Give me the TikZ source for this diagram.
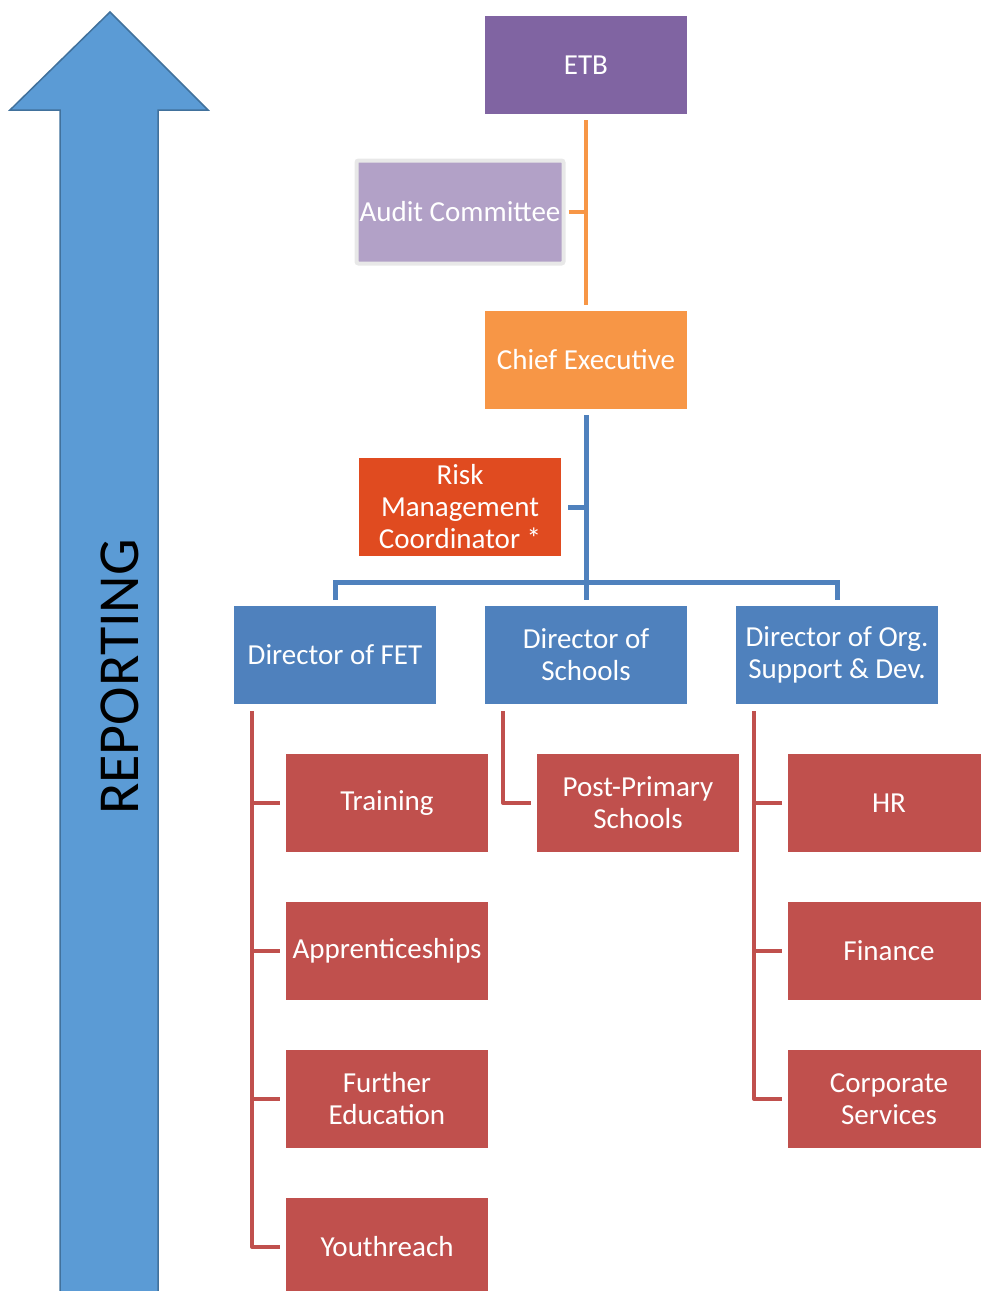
\documentclass[tikz,border=0pt]{standalone}
\usepackage{fontspec}
\setmainfont{Carlito}
\usepackage{xcolor}
\usetikzlibrary{positioning}

\definecolor{etbpurple}{HTML}{8064A2}
\definecolor{auditlilac}{HTML}{B2A1C7}
\definecolor{ceorange}{HTML}{F79646}
\definecolor{riskred}{HTML}{E04B20}
\definecolor{dirblue}{HTML}{4F81BD}
\definecolor{unitred}{HTML}{C0504D}
\definecolor{arrowblue}{HTML}{5B9BD5}
\definecolor{arrowedge}{HTML}{41719C}

\begin{document}
\begin{tikzpicture}[orgbox/.style={rectangle, minimum width=4.04cm, minimum height=1.96cm, inner sep=0pt, outer sep=0pt, align=center, text=white, font=\fontsize{16.5}{18.2}\selectfont},
                    node distance=1cm,
                    orangeline/.style={draw=ceorange, line width=0.08cm},
                    blueline/.style={draw=dirblue, line width=0.1cm},
                    redline/.style={draw=unitred, line width=0.08cm, line join=round},]
            \useasboundingbox (0,0) rectangle (19.62,-25.82);

            %Arrow
            \fill[arrowblue, draw=arrowedge, line width=0.03cm] (2.2,-0.24) -- (4.16,-2.2) -- (3.16,-2.2) -- (3.16,-26.2) -- (1.2,-26.2) -- (1.2,-2.2) -- (0.2,-2.2) -- cycle;
            \node[rotate=90, font=\fontsize{33}{36}\selectfont](reporting) at (2.4,-13.54){REPORTING};

            %Nodes
            \node[orgbox, fill=etbpurple](etb) at (11.72,-1.3){ETB};
            \node[orgbox, fill=auditlilac, draw=gray!18, line width=0.08cm, minimum width=4.14cm, minimum height=2.06cm, rounded corners=0.04cm](audit) at (9.2,-4.24){Audit Committee};
            \node[orgbox, fill=ceorange](chief)[below=3.94cm of etb]{Chief Executive};
            \node[orgbox, fill=riskred](risk) at (9.2,-10.14){Risk\\Management\\Coordinator *};
            \node[orgbox, fill=dirblue](dir_schools)[below=3.94cm of chief]{Director of\\Schools};
            \node[orgbox, fill=dirblue](dir_fet)[left=0.98cm of dir_schools]{Director of FET};
            \node[orgbox, fill=dirblue](dir_org)[right=0.98cm of dir_schools]{Director of Org.\\Support \& Dev.};

            \node[orgbox, fill=unitred](unit_training)[below=of dir_fet, xshift=1.04cm]{Training};
            \node[orgbox, fill=unitred](unit_appren)[below=of unit_training]{Apprenticeships};
            \node[orgbox, fill=unitred](unit_further)[below=of unit_appren]{Further\\Education};
            \node[orgbox, fill=unitred](unit_youth)[below=of unit_further]{Youthreach};
            \node[orgbox, fill=unitred](unit_postprim)[below=of dir_schools, xshift=1.04cm]{Post-Primary\\Schools};
            \node[orgbox, fill=unitred](unit_hr)[below=of dir_org, xshift=1.04cm]{HR};
            \node[orgbox, fill=unitred](unit_finance)[below=of unit_hr]{Finance};
            \node[orgbox, fill=unitred](unit_corporate)[below=of unit_finance]{Corporate\\Services};

            \coordinate(fetbar) at ([xshift=0.36cm]dir_fet.south west);
            \coordinate(schoolsbar) at ([xshift=0.36cm]dir_schools.south west);
            \coordinate(orgbar) at ([xshift=0.36cm]dir_org.south west);

            %Lines
            \draw[orangeline, shorten <=0.12cm, shorten >=0.12cm](etb.south)--(chief.north);
            \draw[orangeline, shorten <=0.1cm](audit.east)--(audit.east -| etb.south);
            \draw[blueline, shorten <=0.12cm, shorten >=0.12cm](chief.south)--(dir_schools.north);
            \draw[blueline, shorten <=0.14cm](risk.east)--(risk.east -| chief.south);
            \draw[blueline]([yshift=0.12cm]dir_fet.north)|-([yshift=0.48cm]dir_schools.north)-|([yshift=0.12cm]dir_org.north);

            \draw[redline]([yshift=-0.14cm]fetbar)|-([xshift=-0.12cm]unit_youth.west);
            \foreach \u in {unit_training, unit_appren, unit_further}
                \draw[redline](\u.west -| fetbar)--([xshift=-0.12cm]\u.west);
            \draw[redline]([yshift=-0.14cm]schoolsbar)|-([xshift=-0.12cm]unit_postprim.west);
            \draw[redline]([yshift=-0.14cm]orgbar)|-([xshift=-0.12cm]unit_corporate.west);
            \foreach \u in {unit_hr, unit_finance}
                \draw[redline](\u.west -| orgbar)--([xshift=-0.12cm]\u.west);

        \end{tikzpicture}
\end{document}
